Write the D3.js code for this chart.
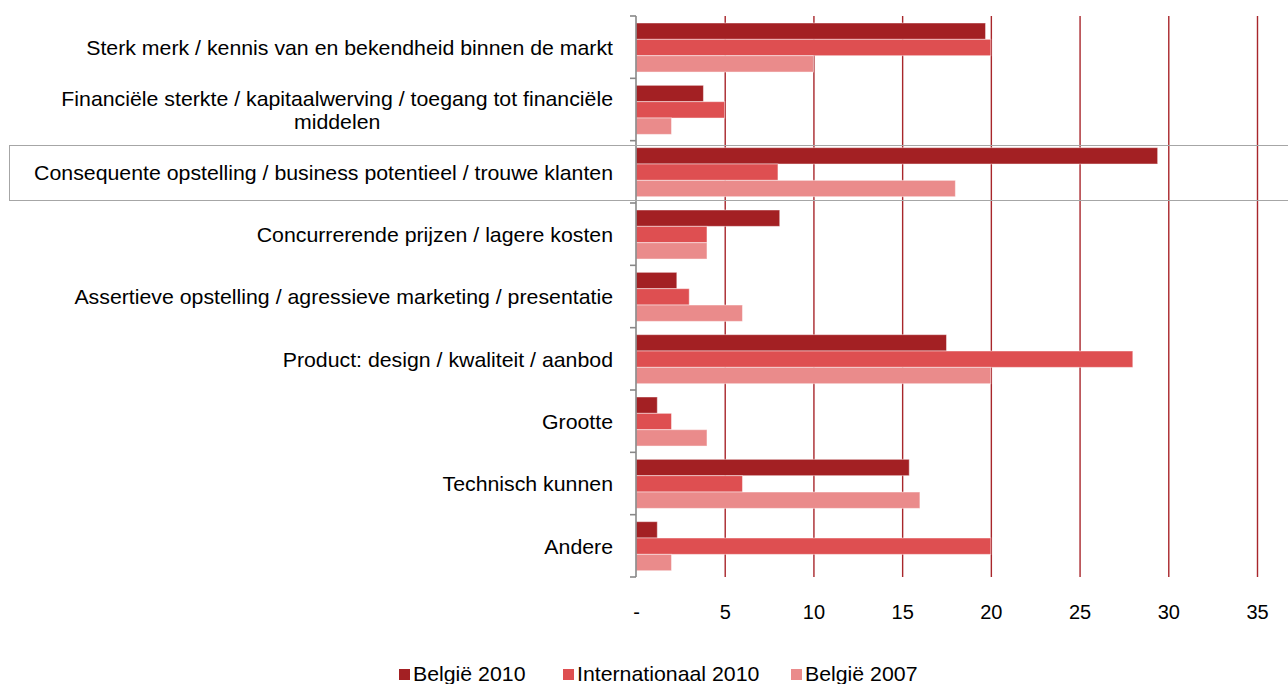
<!DOCTYPE html>
<html lang="nl">
<head>
    <meta charset="UTF-8">
    <title>Sterktes</title>
    <style>
        body {
            margin: 0;
            background: #fff;
        }
        svg text {
            font-family: "Liberation Sans", Arial, sans-serif;
            fill: #000;
        }
    </style>
</head>
<body>
    <div id="chart"></div>

    <script src="https://d3js.org/d3.v7.min.js"></script>
    <script>
        const categories = [
            'Sterk merk / kennis van en bekendheid binnen de markt',
            'Financiële sterkte / kapitaalwerving / toegang tot financiële|middelen',
            'Consequente opstelling / business potentieel / trouwe klanten',
            'Concurrerende prijzen / lagere kosten',
            'Assertieve opstelling / agressieve marketing / presentatie',
            'Product: design / kwaliteit / aanbod',
            'Grootte',
            'Technisch kunnen',
            'Andere'
        ]
        const seriesNames = ['België 2010', 'Internationaal 2010', 'België 2007']
        const belgie2010 = [19.7, 3.8, 29.4, 8.1, 2.3, 17.5, 1.2, 15.4, 1.2]
        const internationaal2010 = [20, 5, 8, 4, 3, 28, 2, 6, 20]
        const belgie2007 = [10, 2, 18, 4, 6, 20, 4, 16, 2]
        const xTicks = [0, 5, 10, 15, 20, 25, 30, 35]

        const colors = ['#a32023', '#de4f51', '#ea8b8b']
        const gridColor = '#a8262b'
        const axisColor = '#888'
        const fontSize = 20
        // the original text is a little wider than Liberation Sans
        const stretch = 1.065

        const width = 1288
        const height = 684
        const plotLeft = 636
        const plotRight = 1257
        const plotTop = 16
        const plotBottom = 577

        const seriesValues = [belgie2010, internationaal2010, belgie2007]
        const rows = categories.map((c, i) => ({
            category: c,
            values: seriesNames.map((s, j) => ({ series: s, idx: j, value: seriesValues[j][i] }))
        }))

        const x = d3.scaleLinear()
            .domain([0, 35])
            .range([plotLeft, plotRight])

        const y = d3.scaleBand()
            .domain(categories)
            .range([plotTop, plotBottom])

        const inner = d3.scaleBand()
            .domain(seriesNames)
            .range([7, y.bandwidth() - 6.3])

        const svg = d3.select('#chart')
            .append('svg')
            .attr('width', width)
            .attr('height', height)

        // gridlines + tick labels
        const xAxis = svg.append('g')
            .attr('transform', `translate(0, ${plotBottom})`)
            .call(d3.axisBottom(x)
                .tickValues(xTicks)
                .tickSize(-(plotBottom - plotTop))
                .tickPadding(28)
                .tickFormat(d => d === 0 ? '-' : d))
        xAxis.select('.domain').remove()
        xAxis.selectAll('.tick line')
            .attr('stroke', gridColor)
            .attr('stroke-width', 1.4)
            .filter(d => d === 0).remove()
        xAxis.selectAll('.tick text')
            .style('font-size', fontSize + 'px')
            .attr('font-family', null)

        // bars
        const groups = svg.append('g')
            .selectAll('g')
            .data(rows)
            .join('g')
            .attr('transform', d => `translate(0, ${y(d.category)})`)

        groups.selectAll('rect')
            .data(d => d.values)
            .join('rect')
            .attr('x', x(0))
            .attr('y', d => inner(d.series))
            .attr('width', d => x(d.value) - x(0))
            .attr('height', inner.bandwidth())
            .attr('fill', d => colors[d.idx])
            .attr('stroke', 'rgba(255,255,255,0.45)')
            .attr('stroke-width', 1)

        // y axis line + boundary ticks
        const yAxis = svg.append('g')
            .attr('stroke', axisColor)
            .attr('stroke-width', 1.6)
        yAxis.append('line')
            .attr('x1', plotLeft).attr('x2', plotLeft)
            .attr('y1', plotTop).attr('y2', plotBottom)
        yAxis.selectAll('.bt')
            .data(d3.range(categories.length + 1))
            .join('line')
            .attr('class', 'bt')
            .attr('x1', plotLeft - 6).attr('x2', plotLeft)
            .attr('y1', i => plotTop + i * y.step())
            .attr('y2', i => plotTop + i * y.step())

        // category labels
        const labelRight = 613
        const labels = svg.append('g')
            .style('font-size', fontSize + 'px')
        rows.forEach(r => {
            const lines = r.category.split('|')
            const cy = y(r.category) + y.bandwidth() / 2
            const g = labels.append('g')
                .attr('transform', `translate(${labelRight}, ${cy}) scale(${stretch}, 1)`)
            const t = g.append('text')
                .attr('text-anchor', lines.length > 1 ? 'middle' : 'end')
                .attr('dominant-baseline', 'central')
            lines.forEach((l, k) => {
                t.append('tspan')
                    .attr('x', 0)
                    .attr('y', (k - (lines.length - 1) / 2) * 23)
                    .text(l)
            })
            if (lines.length > 1) {
                const w = d3.max(t.selectAll('tspan').nodes(), n => n.getComputedTextLength())
                t.selectAll('tspan').attr('x', -w / 2)
            }
        })

        // highlight frame round the third category
        svg.append('rect')
            .attr('x', 9.5)
            .attr('y', 145.5)
            .attr('width', 1300)
            .attr('height', 55)
            .attr('fill', 'none')
            .attr('stroke', '#a6a6a6')
            .attr('stroke-width', 1)

        // legend
        const legendX = [399, 563, 791]
        const legend = svg.append('g')
            .style('font-size', fontSize + 'px')
        seriesNames.forEach((s, i) => {
            legend.append('rect')
                .attr('x', legendX[i])
                .attr('y', 669)
                .attr('width', 11)
                .attr('height', 11)
                .attr('fill', colors[i])
            legend.append('text')
                .attr('transform', `translate(${legendX[i] + 14}, 681) scale(${stretch}, 1)`)
                .text(s)
        })
    </script>
</body>
</html>
